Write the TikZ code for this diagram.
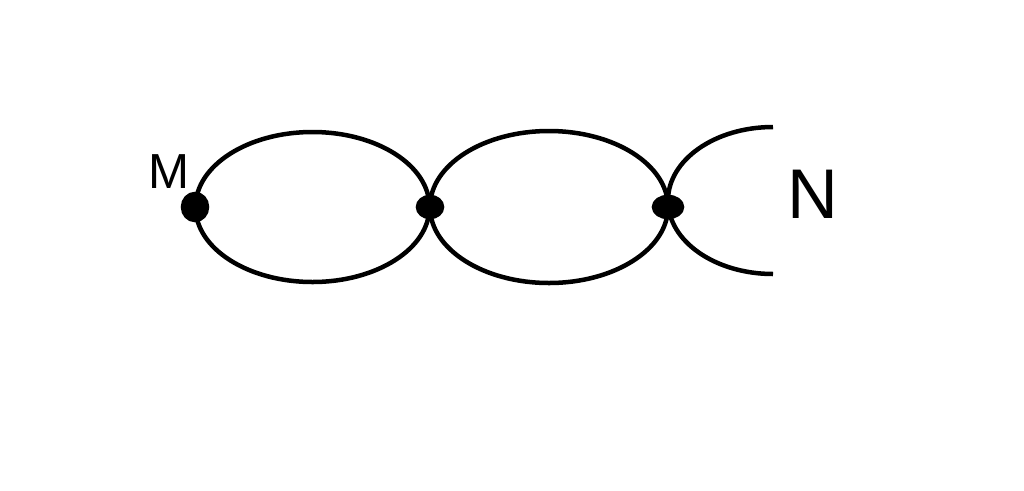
\documentclass[tikz,border=0pt]{standalone}
\usepackage{fontspec}
\setmainfont{Liberation Sans}
\usetikzlibrary{calc}
\begin{document}
\begin{tikzpicture}[x=0.01cm,y=0.01cm,line width=0.045cm]
\useasboundingbox (0,0) rectangle (1024,490);
\def\ry{75}
\foreach \x/\y/\p in {195/283/m, 430/283/j1, 668/283/j2}{
    \coordinate (\p) at (\x,\y);
}
\draw ($(m)!0.5!(j1)$) ellipse (117 and \ry);
\draw ($(j1)!0.5!(j2)$) ellipse (119 and 76);
\coordinate (ntop) at (773,363);
\draw (ntop) arc (90:270:105 and 73.5);
\draw[fill] (m) ellipse (12 and 13);
\draw[fill] (j1) ellipse (12 and 10);
\draw[fill] (j2) ellipse (14 and 10);
\node[font=\fontsize{14}{14}\selectfont] (labm) at (169,318) {M};
\node[font=\fontsize{20}{20}\selectfont] (labn) at (813,296) {N};
\end{tikzpicture}
\end{document}
